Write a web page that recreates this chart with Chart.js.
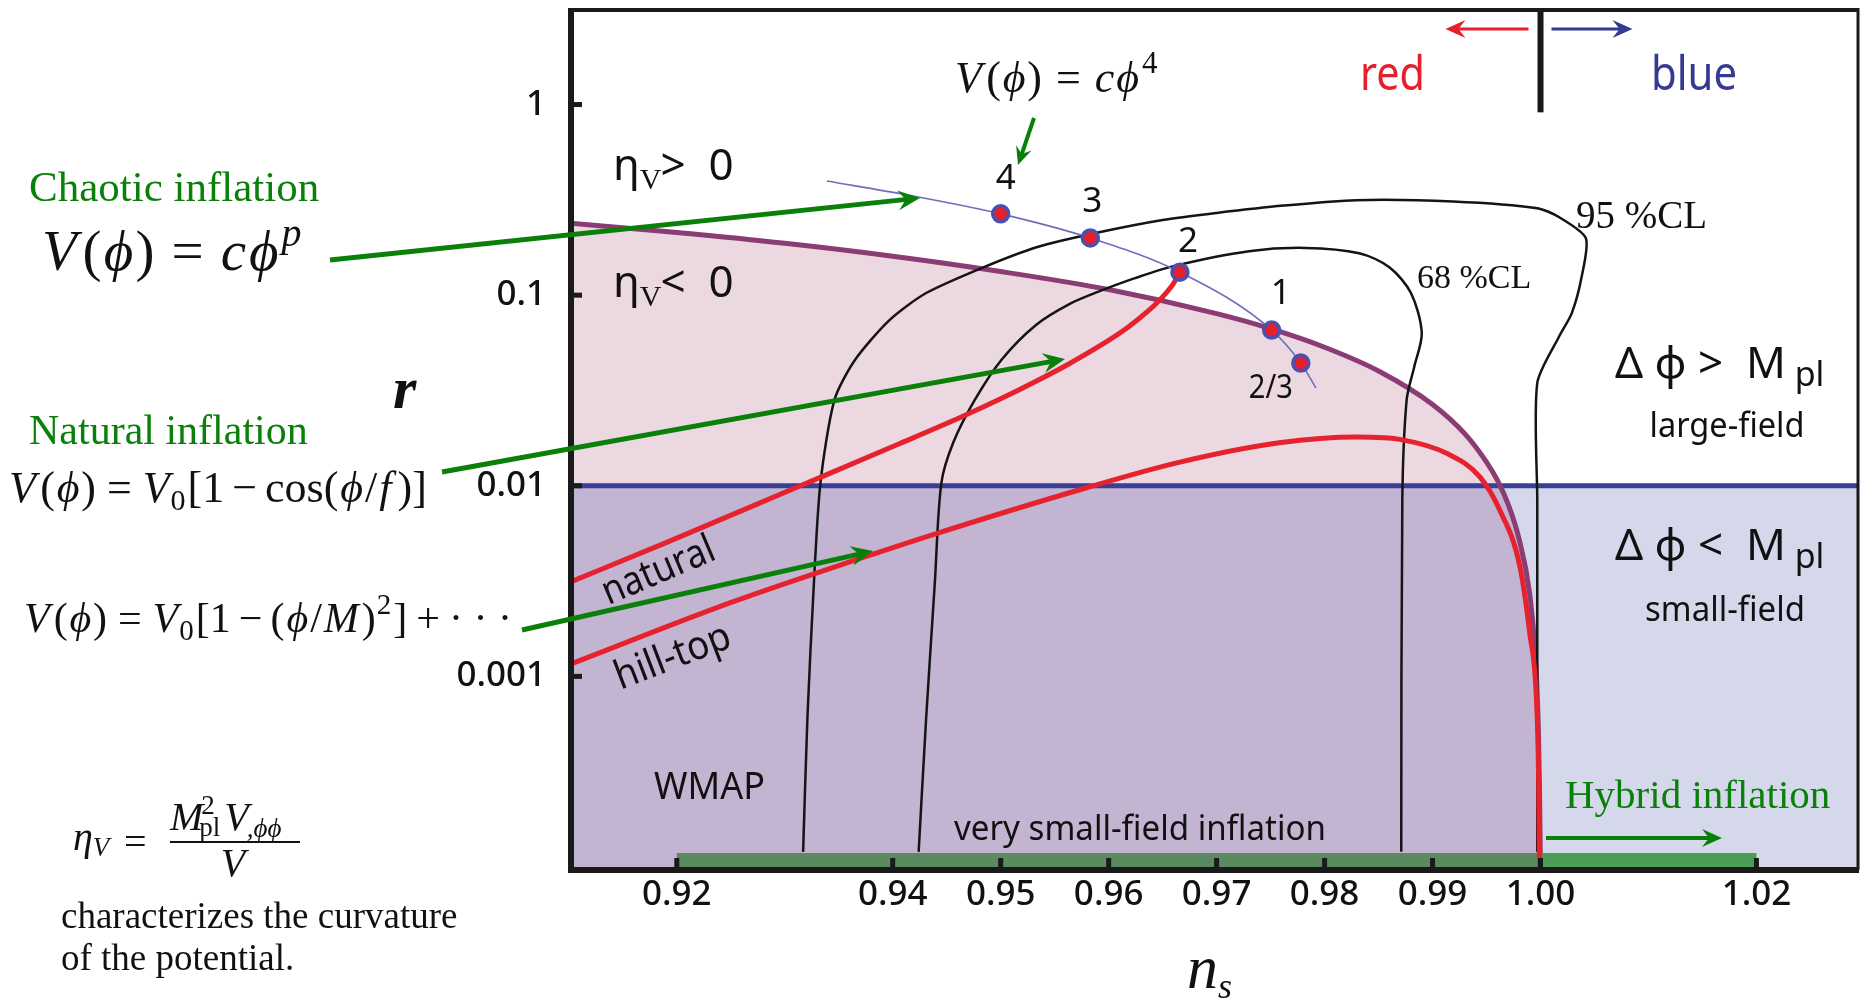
<!DOCTYPE html>
<html>
<head>
<meta charset="utf-8">
<title>Inflation models in the (n_s, r) plane</title>
<script src="https://cdn.jsdelivr.net/npm/chart.js@4.4.1/dist/chart.umd.min.js"></script>
<style>
  html, body { margin: 0; padding: 0; background: #fff; overflow: hidden; }
  #wrap { width: 1862px; height: 1000px; }
  canvas { display: block; }
</style>
</head>
<body>
<div id="wrap"><canvas id="nsChart" width="1862" height="1000"></canvas></div>
<script>
// axes
const xTicks = [0.92, 0.94, 0.95, 0.96, 0.97, 0.98, 0.99, 1.00, 1.02];
const yTicks = [0.001, 0.01, 0.1, 1];
const yTickLabels = ['0.001', '0.01', '0.1', '1'];
const xRange = [0.9102, 1.0295];
const yRange = [9.64e-5, 3.21];

// eta_V = 0 boundary
const boundaryNs = [0.905, 0.92, 0.93, 0.94, 0.95, 0.96, 0.97, 0.975, 0.98, 0.985, 0.99, 0.993, 0.995, 0.996, 0.997, 0.998, 0.999, 0.9995, 0.9998, 0.9999, 1.0];
const boundaryR = [0.253, 0.213, 0.187, 0.160, 0.133, 0.107, 0.080, 0.0667, 0.0533, 0.040, 0.0267, 0.0187, 0.0133, 0.0107, 0.0080, 0.0053, 0.0027, 0.00133, 0.00053, 0.00027, 0.00009];

// r = 0.01 (large-field / small-field)
const splitNs = [0.90, 1.04];
const splitR = [0.01, 0.01];

// WMAP contours
const cl95Ns = [0.9317, 0.9321, 0.9327, 0.9333, 0.9346, 0.9365, 0.9397, 0.9431, 0.9484, 0.9534, 0.9588, 0.9650, 0.9700, 0.9762, 0.9829, 0.9919, 0.9997, 1.0017, 1.0042, 1.0038, 1.0029, 1.0017, 0.9997, 0.9997, 0.9997];
const cl95R = [0.00012, 0.00061, 0.0031, 0.0103, 0.0282, 0.0457, 0.0740, 0.1026, 0.140, 0.179, 0.212, 0.248, 0.270, 0.295, 0.315, 0.310, 0.286, 0.257, 0.199, 0.124, 0.0805, 0.0603, 0.0346, 0.0084, 0.00012];
const cl68Ns = [0.9424, 0.9431, 0.9439, 0.9445, 0.9456, 0.9476, 0.9501, 0.9533, 0.9564, 0.9590, 0.9623, 0.9660, 0.9730, 0.9782, 0.9832, 0.9860, 0.9880, 0.9890, 0.9883, 0.9876, 0.9872, 0.9871];
const cl68R = [0.00012, 0.00061, 0.0031, 0.0103, 0.0168, 0.0282, 0.0460, 0.0700, 0.090, 0.104, 0.122, 0.142, 0.170, 0.177, 0.166, 0.140, 0.1026, 0.0633, 0.0420, 0.0282, 0.0084, 0.00012];

// model predictions
const naturalNs = [0.9100, 0.9189, 0.9309, 0.9405, 0.9464, 0.9499, 0.9530, 0.9561, 0.9592, 0.9617, 0.9635, 0.9650, 0.9660, 0.9666];
const naturalR = [0.0031, 0.0050, 0.0097, 0.0165, 0.0230, 0.0284, 0.0347, 0.0429, 0.0543, 0.0673, 0.0811, 0.098, 0.115, 0.132];
const hilltopNs = [0.9100, 0.9251, 0.9374, 0.9436, 0.9578, 0.9666, 0.9758, 0.9830, 0.9872, 0.9913, 0.9944, 0.9962, 0.9981, 0.9990, 0.99963, 0.99981, 0.9999, 1.0000];
const hilltopR = [0.00115, 0.00245, 0.00423, 0.00551, 0.0097, 0.0133, 0.0168, 0.0180, 0.0174, 0.0148, 0.0111, 0.0075, 0.00375, 0.00169, 0.00075, 0.00033, 0.00011, 0.00009];
const chaoticNs = [0.9339, 0.9414, 0.9500, 0.9583, 0.9666, 0.9751, 0.9778, 0.9792];
const chaoticR = [0.397, 0.335, 0.267, 0.1995, 0.132, 0.0656, 0.044, 0.0326];
const powerNs = [0.9500, 0.9583, 0.9666, 0.9751, 0.9778];
const powerR = [0.267, 0.1995, 0.132, 0.0656, 0.044];
const powerLabels = ['4', '3', '2', '1', '2/3'];

// very small-field / hybrid band along the bottom
const barRedNs = [0.92, 1.00];
const barBlueNs = [1.00, 1.02];
const barR = 1.08e-4;

const SANS = '"Noto Sans", "DejaVu Sans", sans-serif';
const SERIF = '"Liberation Serif", "DejaVu Serif", serif';
const GREEN = '#0a800a';
const PINK = '#ecd8e1';
const PURPLE = '#c3b4d1';
const LAVENDER = '#d5d8eb';

const pts = (xs, ys) => xs.map((x, i) => ({ x: x, y: Array.isArray(ys) ? ys[i] : ys }));
const fi = s => `italic ${s}px ${SERIF}`;
const fr = s => `${s}px ${SERIF}`;
const fs = s => `${s}px ${SANS}`;

function lowerFill(context) {
  const chart = context.chart;
  const a = chart.chartArea;
  if (!a) return PINK;
  const py = chart.scales.y.getPixelForValue(0.01);
  const s = Math.min(1, Math.max(0, (py - a.top) / (a.bottom - a.top)));
  const g = chart.ctx.createLinearGradient(0, a.top, 0, a.bottom);
  g.addColorStop(0, PINK);
  g.addColorStop(s, PINK);
  g.addColorStop(s, PURPLE);
  g.addColorStop(1, PURPLE);
  return g;
}

// draw a row of text runs: [text, font, dy, extraAdvance]
function runs(ctx, x, y, list, color) {
  ctx.save();
  ctx.fillStyle = color || '#111';
  ctx.textAlign = 'left';
  ctx.textBaseline = 'alphabetic';
  let cx = x;
  list.forEach(r => {
    ctx.font = r[1];
    ctx.fillText(r[0], cx, y + (r[2] || 0));
    cx += ctx.measureText(r[0]).width + (r[3] || 0);
  });
  ctx.restore();
  return cx;
}

// V(phi) = ... prefix with TeX-like spacing
function vPhi(size, gap) {
  return [['V', fi(size), 0, size * 0.1], ['(', fr(size), 0, size * 0.04], ['ϕ', fi(size), 0, size * 0.04], [')', fr(size), 0, gap], ['=', fr(size), 0, gap]];
}

function label(ctx, str, x, y, font, color, align, maxW, angle) {
  ctx.save();
  ctx.font = font;
  ctx.fillStyle = color || '#111';
  ctx.textAlign = align || 'left';
  ctx.textBaseline = 'alphabetic';
  ctx.translate(x, y);
  if (angle) ctx.rotate(angle);
  if (maxW) ctx.fillText(str, 0, 0, maxW); else ctx.fillText(str, 0, 0);
  ctx.restore();
}

function arrow(ctx, x1, y1, x2, y2, color, w, head) {
  const ang = Math.atan2(y2 - y1, x2 - x1);
  ctx.save();
  ctx.strokeStyle = color;
  ctx.fillStyle = color;
  ctx.lineWidth = w;
  ctx.beginPath();
  ctx.moveTo(x1, y1);
  ctx.lineTo(x2 - Math.cos(ang) * head * 0.6, y2 - Math.sin(ang) * head * 0.6);
  ctx.stroke();
  ctx.translate(x2, y2);
  ctx.rotate(ang);
  ctx.beginPath();
  ctx.moveTo(0, 0);
  ctx.lineTo(-head, -head * 0.45);
  ctx.lineTo(-head * 0.65, 0);
  ctx.lineTo(-head, head * 0.45);
  ctx.closePath();
  ctx.fill();
  ctx.restore();
}

const annotate = {
  id: 'annotate',
  afterDatasetsDraw(chart) {
    const { ctx, chartArea: a, scales: { x, y } } = chart;

    // frame
    ctx.save();
    ctx.strokeStyle = '#1a1a1a';
    ctx.lineWidth = 6;
    ctx.beginPath();
    ctx.moveTo(a.left, a.top + 1); ctx.lineTo(a.left, a.bottom);
    ctx.lineTo(a.right, a.bottom);
    ctx.stroke();
    ctx.lineWidth = 4;
    ctx.beginPath();
    ctx.moveTo(a.left - 3, a.top + 2); ctx.lineTo(a.right, a.top + 2);
    ctx.stroke();
    ctx.lineWidth = 3;
    ctx.beginPath();
    ctx.moveTo(a.right - 1, a.top); ctx.lineTo(a.right - 1, a.bottom);
    ctx.stroke();
    // inward ticks
    ctx.fillStyle = '#1a1a1a';
    xTicks.forEach(v => { const px = x.getPixelForValue(v); ctx.fillRect(px - 2.5, a.bottom - 12, 5, 12); });
    yTicks.forEach(v => { const py = y.getPixelForValue(v); ctx.fillRect(a.left, py - 2.5, 11, 5); });
    // red / blue divider at n_s = 1
    const p1 = x.getPixelForValue(1.0);
    ctx.fillRect(p1 - 3, a.top, 6, y.getPixelForValue(0.91) - a.top);
    ctx.restore();

    arrow(ctx, p1 - 12, 29, p1 - 95, 29, '#e5202c', 3, 20);
    arrow(ctx, p1 + 11, 29, p1 + 92, 29, '#343a92', 3, 20);
    label(ctx, 'red', 1360, 90, fs(47), '#e5202c', 'left', 65);
    label(ctx, 'blue', 1651, 90, fs(47), '#343a92', 'left', 86);

    // eta_V labels
    runs(ctx, 613, 180, [['η', fs(44)], ['V', fr(30), 9, -1], ['>  0', fs(44)]]);
    runs(ctx, 613, 297, [['η', fs(44)], ['V', fr(30), 9, -1], ['<  0', fs(44)]]);

    // power labels beside the chaotic points
    const offs = [[5, -35], [2, -36], [8, -30], [9, -36], [-30, 26]];
    const meta = chart.getDatasetMeta(0);
    meta.data.forEach((pt, i) => {
      ctx.save();
      ctx.font = fs(i === 4 ? 32 : 35);
      ctx.fillStyle = '#111';
      ctx.textAlign = 'center';
      ctx.textBaseline = 'middle';
      ctx.fillText(powerLabels[i], pt.x + offs[i][0], pt.y + offs[i][1], i === 4 ? 44 : 30);
      ctx.restore();
    });

    // CL labels
    label(ctx, '95 %CL', 1576, 228, fr(39), '#111');
    label(ctx, '68 %CL', 1417, 288, fr(34), '#111');

    // field range labels
    runs(ctx, 1615, 378, [['Δ φ >  M', fs(44)], [' pl', fs(34), 8]]);
    label(ctx, 'large-field', 1727, 437, fs(34), '#111', 'center', 155);
    runs(ctx, 1615, 560, [['Δ φ <  M', fs(44)], [' pl', fs(34), 8]]);
    label(ctx, 'small-field', 1725, 621, fs(34), '#111', 'center', 160);

    label(ctx, 'WMAP', 654, 799, fs(39), '#111', 'left', 111);
    label(ctx, 'very small-field inflation', 954, 840, fs(35), '#111', 'left', 372);
    label(ctx, 'natural', 663, 582, fs(40), '#111', 'center', 119, -23 * Math.PI / 180);
    label(ctx, 'hill-top', 677, 668, fs(40), '#111', 'center', 121, -21 * Math.PI / 180);

    // top formula
    runs(ctx, 955, 92, [...vPhi(44, 14), ['c', fi(44), 0, 2], ['ϕ', fi(44), 0, 3], ['4', fr(31), -19]]);
    arrow(ctx, 1034, 118, 1018, 165, GREEN, 4, 18);

    // hybrid inflation
    label(ctx, 'Hybrid inflation', 1565, 808, fr(41), GREEN);
    arrow(ctx, 1546, 838, 1722, 838, GREEN, 4, 20);

    // left-hand annotations
    label(ctx, 'Chaotic inflation', 29, 201, fr(43), GREEN);
    runs(ctx, 42, 270, [...vPhi(57, 17), ['c', fi(57), 0, 3], ['ϕ', fi(57), 0, 3], ['p', fi(40), -24]]);
    label(ctx, 'Natural inflation', 29, 444, fr(42), GREEN);
    runs(ctx, 9, 502, [...vPhi(44, 11), ['V', fi(44), 0, 1], ['0', fr(30), 8, 2], ['[1', fr(44), 0, 8], ['−', fr(44), 0, 8], ['cos(', fr(44), 0, 2], ['ϕ', fi(44), 0, 2], ['/', fr(44), 0, 2], ['f', fi(44), 0, 6], [')]', fr(44)]]);
    runs(ctx, 24, 632, [...vPhi(42, 11), ['V', fi(42), 0, 1], ['0', fr(29), 8, 2], ['[1', fr(42), 0, 8], ['−', fr(42), 0, 8], ['(', fr(42), 0, 2], ['ϕ', fi(42), 0, 2], ['/', fr(42), 0, 2], ['M', fi(42), 0, 3], [')', fr(42), 0, 1], ['2', fr(29), -18, 2], [']', fr(42), 0, 9], ['+', fr(42), 0, 9], ['· · ·', fr(42)]]);

    arrow(ctx, 330, 260, 920, 198, GREEN, 5, 22);
    arrow(ctx, 442, 472, 1065, 359, GREEN, 5, 22);
    arrow(ctx, 522, 630, 873, 551, GREEN, 5, 22);

    // axis titles
    label(ctx, 'r', 393, 408, `italic bold 60px ${SERIF}`, '#111');
    runs(ctx, 1187, 988, [['n', fi(62)], ['s', fi(36), 10]]);

    // eta_V definition
    runs(ctx, 73, 850, [['η', fi(40)], ['V', fi(27), 6]]);
    label(ctx, '=', 124, 855, fr(40), '#111');
    ctx.save();
    ctx.font = fi(40);
    const mEnd = 170 + ctx.measureText('M').width;
    ctx.font = fr(27);
    const stackW = Math.max(ctx.measureText('2').width, ctx.measureText('pl').width);
    ctx.restore();
    runs(ctx, 170, 830, [['M', fi(40)]]);
    runs(ctx, mEnd - 2, 814, [['2', fr(27)]]);
    runs(ctx, mEnd - 4, 836, [['pl', fr(27)]]);
    runs(ctx, mEnd + stackW, 830, [['V', fi(40), 0, -2], [',ϕϕ', fi(27), 7]]);
    ctx.save();
    ctx.fillStyle = '#111';
    ctx.fillRect(170, 841, 130, 2);
    ctx.restore();
    label(ctx, 'V', 233, 876, fi(40), '#111', 'center');
    label(ctx, 'characterizes the curvature', 61, 928, fr(37), '#111', 'left', 402);
    label(ctx, 'of the potential.', 61, 970, fr(37), '#111', 'left', 240);
  }
};

const lineDefaults = { showLine: true, pointRadius: 0, fill: false, tension: 0 };

new Chart(document.getElementById('nsChart'), {
  type: 'scatter',
  data: {
    datasets: [
      {
        label: 'V = c phi^p (points)',
        data: pts(powerNs, powerR),
        showLine: false,
        pointRadius: 8,
        pointBorderWidth: 3.5,
        pointBackgroundColor: '#e3202c',
        pointBorderColor: '#4b50ad'
      },
      { ...lineDefaults, label: 'chaotic', data: pts(chaoticNs, chaoticR), borderColor: '#6d70b8', borderWidth: 1.6, cubicInterpolationMode: 'monotone' },
      { ...lineDefaults, label: 'natural', data: pts(naturalNs, naturalR), borderColor: '#e5222e', borderWidth: 5, cubicInterpolationMode: 'monotone' },
      { ...lineDefaults, label: 'hill-top', data: pts(hilltopNs, hilltopR), borderColor: '#e5222e', borderWidth: 5, cubicInterpolationMode: 'monotone' },
      { ...lineDefaults, label: 'very small-field', data: pts(barRedNs, barR), borderColor: '#5c8a60', borderWidth: 15 },
      { ...lineDefaults, label: 'hybrid', data: pts(barBlueNs, barR), borderColor: '#4c9e56', borderWidth: 15 },
      { ...lineDefaults, label: '68 %CL', data: pts(cl68Ns, cl68R), borderColor: '#141414', borderWidth: 2.5, tension: 0.3 },
      { ...lineDefaults, label: '95 %CL', data: pts(cl95Ns, cl95R), borderColor: '#141414', borderWidth: 2.5, tension: 0.25 },
      { ...lineDefaults, label: 'eta_V = 0', data: pts(boundaryNs, boundaryR), borderColor: '#8b3c74', borderWidth: 5, cubicInterpolationMode: 'monotone', fill: 'start', backgroundColor: lowerFill },
      { ...lineDefaults, label: 'r = 0.01', data: pts(splitNs, splitR), borderColor: '#3a3e96', borderWidth: 5, fill: 'start', backgroundColor: LAVENDER }
    ]
  },
  options: {
    responsive: false,
    animation: false,
    events: [],
    layout: { autoPadding: false, padding: { top: 8, right: 3, left: 0, bottom: 0 } },
    plugins: {
      legend: { display: false },
      tooltip: { enabled: false },
      filler: { drawTime: 'beforeDatasetsDraw' }
    },
    scales: {
      x: {
        type: 'linear',
        min: xRange[0],
        max: xRange[1],
        grid: { display: false, drawTicks: false },
        border: { display: false },
        afterFit: s => { s.height = 130; s.paddingLeft = 0; s.paddingRight = 0; },
        afterBuildTicks: s => { s.ticks = xTicks.map(v => ({ value: v })); },
        ticks: {
          autoSkip: false,
          maxRotation: 0,
          padding: 4,
          color: '#111',
          font: { family: 'Noto Sans', size: 35, weight: '500' },
          callback: v => v.toFixed(2)
        }
      },
      y: {
        type: 'logarithmic',
        min: yRange[0],
        max: yRange[1],
        grid: { display: false, drawTicks: false },
        border: { display: false },
        afterFit: s => { s.width = 571; s.paddingTop = 0; s.paddingBottom = 0; },
        afterBuildTicks: s => { s.ticks = yTicks.map(v => ({ value: v })); },
        ticks: {
          autoSkip: false,
          padding: 25,
          color: '#111',
          font: { family: 'Noto Sans', size: 35, weight: '500' },
          callback: v => yTickLabels[yTicks.indexOf(v)]
        }
      }
    }
  },
  plugins: [annotate]
});
</script>
</body>
</html>
